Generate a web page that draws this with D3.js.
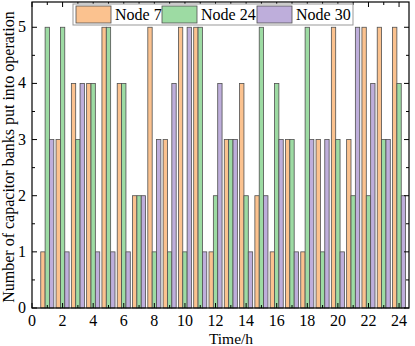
<!DOCTYPE html>
<html>
<head>
<meta charset="utf-8">
<style>
  body { margin: 0; background: #fff; }
  svg text { font-family: "Liberation Serif", "Times New Roman", serif; fill: #000; }
  .bar { stroke: #505050; stroke-width: 0.8; }
</style>
</head>
<body>
<script src="https://d3js.org/d3.v7.min.js"></script>
<script>
// data
const hours = d3.range(1, 25);
const node7  = [1,3,4,4,5,4,2,5,3,5,5,1,3,4,2,1,3,1,3,5,3,5,5,5];
const node24 = [5,5,3,4,5,4,2,1,1,1,5,2,3,2,5,4,3,5,1,3,2,2,3,4];
const node30 = [3,1,4,1,1,1,2,3,4,5,1,4,3,1,2,3,1,3,3,1,5,4,3,2];
const seriesNames = ["Node 7", "Node 24", "Node 30"];
const colors = ["#FBC28F", "#9DDBA3", "#BEAEDB"];
const xTicks = [0, 2, 4, 6, 8, 10, 12, 14, 16, 18, 20, 22, 24];
const yTicks = [0, 1, 2, 3, 4, 5];

const width = 415, height = 346;
const margin = {top: 2, right: 6, bottom: 38, left: 32};
const barW = 0.285;

const svg = d3.select("body").append("svg")
  .attr("width", width).attr("height", height);

const x = d3.scaleLinear().domain([0, 24.65])
  .range([margin.left, width - margin.right]);
const y = d3.scaleLinear().domain([0, 5.45])
  .range([height - margin.bottom, margin.top]);

const allSeries = [node7, node24, node30];

// bars
allSeries.forEach((vals, s) => {
  svg.append("g").selectAll("rect")
    .data(hours)
    .join("rect")
    .attr("class", "bar")
    .attr("x", (h) => x(h + (s - 1.5) * barW))
    .attr("width", x(barW) - x(0))
    .attr("y", (h, i) => y(vals[i]))
    .attr("height", (h, i) => y(0) - y(vals[i]))
    .attr("fill", colors[s]);
});

const x0 = x.range()[0], x1 = x.range()[1];
const y0 = y.range()[0], y1 = y.range()[1];
const minorX = d3.range(1, 25, 2);
const minorY = d3.range(0.5, 5.5, 1);

// ticks drawn inward on all four sides
function ticks(vals, len) {
  const g = svg.append("g").attr("stroke", "#000").attr("stroke-width", 1);
  vals.forEach(v => {
    g.append("line").attr("x1", x(v)).attr("x2", x(v)).attr("y1", y0).attr("y2", y0 - len);
    g.append("line").attr("x1", x(v)).attr("x2", x(v)).attr("y1", y1).attr("y2", y1 + len);
  });
}
function yticks(vals, len) {
  const g = svg.append("g").attr("stroke", "#000").attr("stroke-width", 1);
  vals.forEach(v => {
    g.append("line").attr("y1", y(v)).attr("y2", y(v)).attr("x1", x0).attr("x2", x0 + len);
    g.append("line").attr("y1", y(v)).attr("y2", y(v)).attr("x1", x1).attr("x2", x1 - len);
  });
}
ticks(xTicks, 5);
ticks(minorX, 3);
yticks(yTicks, 5);
yticks(minorY, 3);

// frame
svg.append("rect")
  .attr("x", x0).attr("y", y1)
  .attr("width", x1 - x0).attr("height", y0 - y1)
  .attr("fill", "none").attr("stroke", "#000").attr("stroke-width", 1.2);

// tick labels
svg.append("g").selectAll("text").data(xTicks).join("text")
  .attr("x", d => x(d)).attr("y", y0 + 18)
  .attr("text-anchor", "middle").attr("font-size", 16)
  .text(d => d);
svg.append("g").selectAll("text").data(yTicks).join("text")
  .attr("x", x0 - 6).attr("y", d => y(d) + 5)
  .attr("text-anchor", "end").attr("font-size", 16)
  .text(d => d);

// axis titles
svg.append("text")
  .attr("x", 231).attr("y", 344)
  .attr("text-anchor", "middle").attr("font-size", 15.5)
  .text("Time/h");
svg.append("text")
  .attr("transform", "translate(14,157) rotate(-90)")
  .attr("text-anchor", "middle").attr("font-size", 16)
  .text("Number of capacitor banks put into operation");

// legend
const legend = svg.append("g");
legend.append("rect")
  .attr("x", 73).attr("y", 4).attr("width", 280).attr("height", 21)
  .attr("fill", "#fff").attr("stroke", "#999").attr("stroke-width", 1);
const legX = [76, 162, 257];
seriesNames.forEach((name, i) => {
  legend.append("rect").attr("class", "bar")
    .attr("x", legX[i]).attr("y", 6).attr("width", 35).attr("height", 17)
    .attr("fill", colors[i]);
  legend.append("text")
    .attr("x", legX[i] + 39).attr("y", 20).attr("font-size", 16)
    .text(name);
});
</script>
</body>
</html>
